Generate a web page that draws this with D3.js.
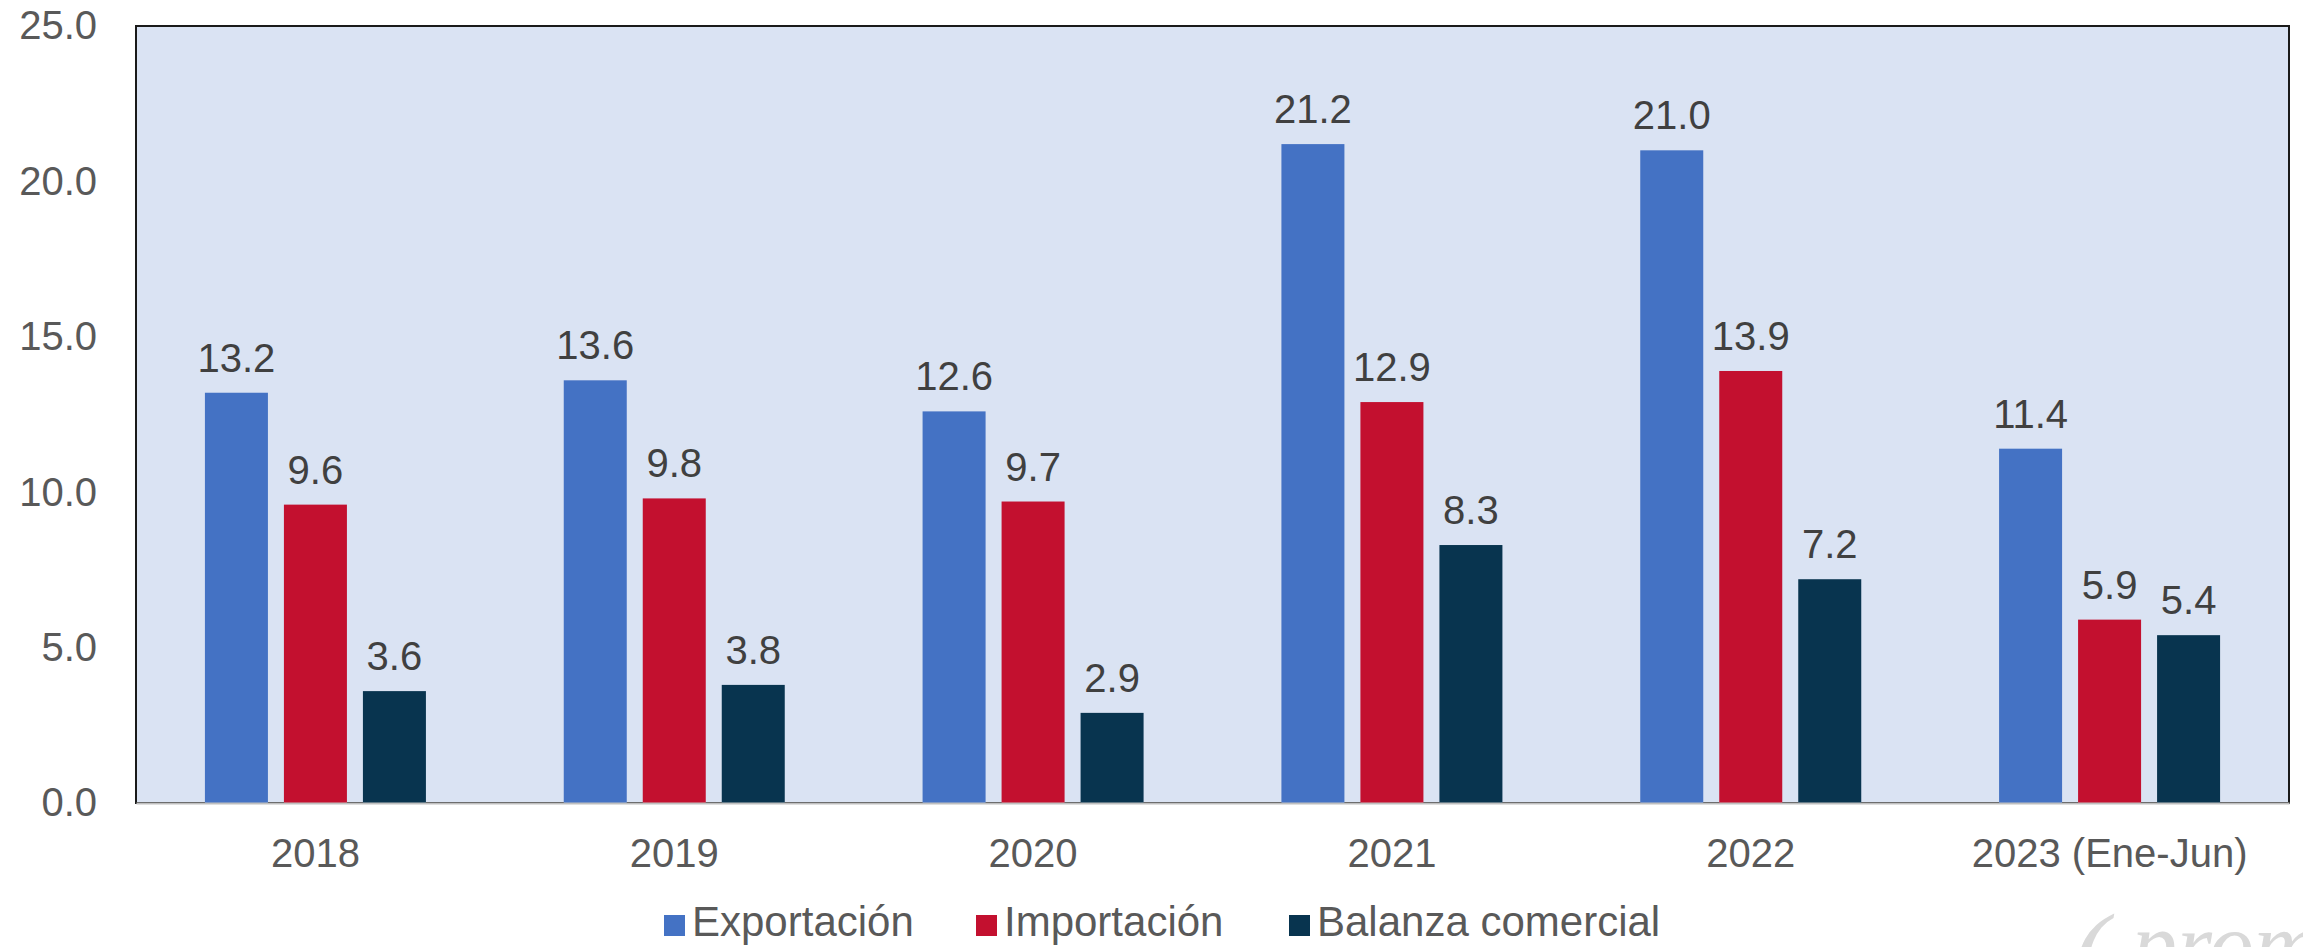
<!DOCTYPE html>
<html>
<head>
<meta charset="utf-8">
<script src="https://cdn.jsdelivr.net/npm/d3@7"></script>
<style>
  body { margin: 0; background: #fff; }
  svg { display: block; font-family: "Liberation Sans", Arial, sans-serif; }
</style>
</head>
<body>
<script>
var svg_width = 2303;
var svg_height = 947;

var categories = ['2018', '2019', '2020', '2021', '2022', '2023 (Ene-Jun)'];
var seriesNames = ['Exportación', 'Importación', 'Balanza comercial'];
var exportacion = [13.2, 13.6, 12.6, 21.2, 21.0, 11.4];
var importacion = [9.6, 9.8, 9.7, 12.9, 13.9, 5.9];
var balanza = [3.6, 3.8, 2.9, 8.3, 7.2, 5.4];
var yTicks = [0, 5, 10, 15, 20, 25];
var colors = ['#4472C4', '#C3102F', '#08344F'];

var series = [exportacion, importacion, balanza];

// plot area
var plotLeft = 136, plotRight = 2289, plotTop = 26, plotBottom = 803;

var svg = d3.select('body').append('svg')
            .attr('width', svg_width)
            .attr('height', svg_height);

var xscale = d3.scaleBand().domain(categories).range([plotLeft, plotRight]);
var inner = d3.scaleBand().domain(d3.range(3)).range([-110.5, 110.5]).paddingInner(16 / 79);
var yscale = d3.scaleLinear().domain([0, 25]).range([plotBottom, plotTop]);

svg.append('rect')
    .attr('x', plotLeft).attr('y', plotTop)
    .attr('width', plotRight - plotLeft).attr('height', plotBottom - plotTop)
    .attr('fill', '#DAE3F3')
    .attr('stroke', '#1a1a1a')
    .attr('stroke-width', 2);

// y axis labels
var yaxis = d3.axisLeft(yscale).tickValues(yTicks).tickFormat(d3.format('.1f')).tickSize(0).tickPadding(39);
var gy = svg.append('g').attr('transform', 'translate(' + plotLeft + ',0)').call(yaxis);
gy.select('.domain').remove();
gy.selectAll('text').attr('font-size', 40).attr('fill', '#595959').attr('font-family', '"Liberation Sans", Arial, sans-serif');

// bars
series.forEach(function(vals, s) {
  var g = svg.append('g');
  g.selectAll('rect').data(vals).enter().append('rect')
    .attr('x', function(d, i) { return xscale(categories[i]) + xscale.bandwidth() / 2 + inner(s); })
    .attr('y', function(d) { return yscale(d); })
    .attr('width', inner.bandwidth())
    .attr('height', function(d) { return plotBottom - yscale(d); })
    .attr('fill', colors[s]);
  g.selectAll('text').data(vals).enter().append('text')
    .attr('x', function(d, i) { return xscale(categories[i]) + xscale.bandwidth() / 2 + inner(s) + inner.bandwidth() / 2; })
    .attr('y', function(d) { return yscale(d) - 21; })
    .attr('text-anchor', 'middle')
    .attr('font-size', 40)
    .attr('fill', '#404040')
    .text(function(d) { return d.toFixed(1); });
});

// x axis
var xaxis = d3.axisBottom(xscale).tickSize(0).tickPadding(36);
var gx = svg.append('g').attr('transform', 'translate(0,' + plotBottom + ')').call(xaxis);
gx.select('.domain').attr('stroke', '#BFBFBF').attr('stroke-width', 2);
gx.selectAll('text').attr('font-size', 40).attr('fill', '#595959').attr('font-family', '"Liberation Sans", Arial, sans-serif');

// legend
var legendX = [664, 976, 1289];
var leg = svg.append('g');
seriesNames.forEach(function(name, s) {
  leg.append('rect')
    .attr('x', legendX[s]).attr('y', 915)
    .attr('width', 21).attr('height', 21)
    .attr('fill', colors[s]);
  leg.append('text')
    .attr('x', legendX[s] + 28).attr('y', 936)
    .attr('font-size', 42)
    .attr('fill', '#595959')
    .text(name);
});

// faint watermark
var wm = svg.append('g').attr('fill', '#D9D9D9')
  .attr('font-family', '"Liberation Serif", serif')
  .attr('font-style', 'italic');
wm.append('text').attr('x', 2072).attr('y', 990).attr('font-size', 110).text('(');
wm.append('text').attr('x', 2132).attr('y', 975).attr('font-size', 90).text('prom');
</script>
</body>
</html>
